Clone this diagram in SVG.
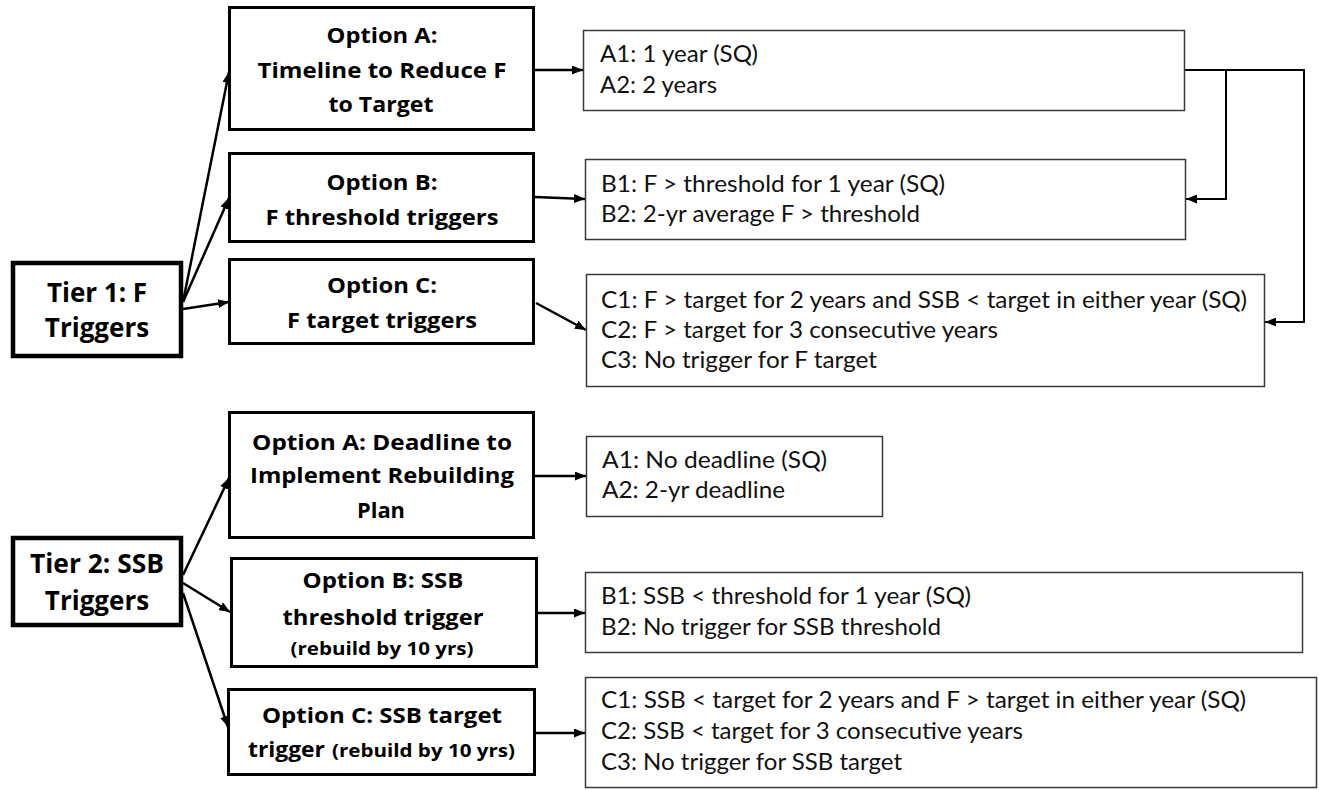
<svg xmlns="http://www.w3.org/2000/svg" width="1319" height="790" viewBox="0 0 1319 790">
<style>
.tier{fill:#fff;stroke:#000;stroke-width:4.5}
.opt{fill:#fff;stroke:#000;stroke-width:3}
.res{fill:#fff;stroke:#3a3a3a;stroke-width:1.5}
.bt{font-family:"Open Sans","Liberation Sans",sans-serif;font-weight:700;font-size:22px;fill:#000;text-anchor:middle}
.tt{font-family:"Open Sans","Liberation Sans",sans-serif;font-weight:700;font-size:26px;fill:#000;text-anchor:middle}
.sm{font-size:18px}
.rt{font-family:Lato,"Liberation Sans",sans-serif;font-size:23px;fill:#111}
.c{fill:none;stroke:#000;stroke-width:2.5}
.c2{fill:none;stroke:#000;stroke-width:2}
</style>
<defs>
<marker id="ah" markerUnits="userSpaceOnUse" markerWidth="11" markerHeight="9" refX="11" refY="4.5" orient="auto">
<path d="M0,0 L11,4.5 L0,9 z" fill="#000"/>
</marker>
</defs>
<rect width="1319" height="790" fill="#fff"/>

<g id="connectors">
<line class="c" x1="183" y1="302" x2="229" y2="72" marker-end="url(#ah)"/>
<line class="c" x1="183" y1="302" x2="229" y2="198" marker-end="url(#ah)"/>
<line class="c" x1="183" y1="309" x2="229" y2="302" marker-end="url(#ah)"/>
<line class="c" x1="535" y1="70" x2="583" y2="70" marker-end="url(#ah)"/>
<line class="c" x1="535" y1="197" x2="585" y2="199" marker-end="url(#ah)"/>
<line class="c" x1="536" y1="303" x2="586" y2="330" marker-end="url(#ah)"/>
<polyline class="c2" points="1185,70 1304,70 1304,322 1265,322" marker-end="url(#ah)"/>
<polyline class="c2" points="1226,70 1226,199 1186,199" marker-end="url(#ah)"/>
<line class="c" x1="183" y1="575" x2="229" y2="478" marker-end="url(#ah)"/>
<line class="c" x1="183" y1="583" x2="230" y2="612" marker-end="url(#ah)"/>
<line class="c" x1="183" y1="593" x2="228" y2="727" marker-end="url(#ah)"/>
<line class="c" x1="535" y1="476" x2="586" y2="476" marker-end="url(#ah)"/>
<line class="c" x1="538" y1="613" x2="585" y2="613" marker-end="url(#ah)"/>
<line class="c" x1="536" y1="733" x2="585" y2="733" marker-end="url(#ah)"/>
</g>

<g id="tier1">
<rect class="tier" x="13" y="263" width="168" height="93"/>
<text class="tt" x="97" y="302">Tier 1: F</text>
<text class="tt" x="97" y="337">Triggers</text>
</g>

<g id="t1-optA">
<rect class="opt" x="229.5" y="7.5" width="304" height="122"/>
<text class="bt" x="382" y="43" textLength="111" lengthAdjust="spacingAndGlyphs">Option A:</text>
<text class="bt" x="382" y="78" textLength="249" lengthAdjust="spacingAndGlyphs">Timeline to Reduce F</text>
<text class="bt" x="381" y="112" textLength="105" lengthAdjust="spacingAndGlyphs">to Target</text>
</g>

<g id="t1-optB">
<rect class="opt" x="229.5" y="153.5" width="304" height="88"/>
<text class="bt" x="382" y="190" textLength="111" lengthAdjust="spacingAndGlyphs">Option B:</text>
<text class="bt" x="382" y="225" textLength="233" lengthAdjust="spacingAndGlyphs">F threshold triggers</text>
</g>

<g id="t1-optC">
<rect class="opt" x="229.5" y="259.5" width="304" height="84"/>
<text class="bt" x="382" y="293" textLength="110" lengthAdjust="spacingAndGlyphs">Option C:</text>
<text class="bt" x="382" y="328" textLength="190" lengthAdjust="spacingAndGlyphs">F target triggers</text>
</g>

<g id="t1-resA">
<rect class="res" x="583.5" y="30.5" width="601" height="80"/>
<text class="rt" x="600" y="62" textLength="158" lengthAdjust="spacingAndGlyphs">A1: 1 year (SQ)</text>
<text class="rt" x="600" y="93" textLength="117" lengthAdjust="spacingAndGlyphs">A2: 2 years</text>
</g>

<g id="t1-resB">
<rect class="res" x="585.5" y="159.5" width="600" height="80"/>
<text class="rt" x="601" y="192" textLength="344" lengthAdjust="spacingAndGlyphs">B1: F &gt; threshold for 1 year (SQ)</text>
<text class="rt" x="601" y="222" textLength="319" lengthAdjust="spacingAndGlyphs">B2: 2-yr average F &gt; threshold</text>
</g>

<g id="t1-resC">
<rect class="res" x="586.5" y="274.5" width="678" height="112"/>
<text class="rt" x="601" y="308" textLength="646" lengthAdjust="spacingAndGlyphs">C1: F &gt; target for 2 years and SSB &lt; target in either year (SQ)</text>
<text class="rt" x="601" y="338" textLength="397" lengthAdjust="spacingAndGlyphs">C2: F &gt; target for 3 consecutive years</text>
<text class="rt" x="601" y="368" textLength="276" lengthAdjust="spacingAndGlyphs">C3: No trigger for F target</text>
</g>

<g id="tier2">
<rect class="tier" x="13" y="538" width="168" height="87"/>
<text class="tt" x="97" y="573" textLength="134" lengthAdjust="spacingAndGlyphs">Tier 2: SSB</text>
<text class="tt" x="97" y="610">Triggers</text>
</g>

<g id="t2-optA">
<rect class="opt" x="229.5" y="412.5" width="304" height="125"/>
<text class="bt" x="382" y="450" textLength="260" lengthAdjust="spacingAndGlyphs">Option A: Deadline to</text>
<text class="bt" x="382" y="483" textLength="264" lengthAdjust="spacingAndGlyphs">Implement Rebuilding</text>
<text class="bt" x="381" y="518" textLength="48" lengthAdjust="spacingAndGlyphs">Plan</text>
</g>

<g id="t2-optB">
<rect class="opt" x="231.5" y="558.5" width="305" height="108"/>
<text class="bt" x="383" y="588" textLength="161" lengthAdjust="spacingAndGlyphs">Option B: SSB</text>
<text class="bt" x="383" y="625" textLength="201" lengthAdjust="spacingAndGlyphs">threshold trigger</text>
<text class="bt sm" x="382" y="655" textLength="183" lengthAdjust="spacingAndGlyphs">(rebuild by 10 yrs)</text>
</g>

<g id="t2-optC">
<rect class="opt" x="228.5" y="689.5" width="306" height="85"/>
<text class="bt" x="382" y="723" textLength="240" lengthAdjust="spacingAndGlyphs">Option C: SSB target</text>
<text class="bt" x="248" y="757" style="text-anchor:start" textLength="77" lengthAdjust="spacingAndGlyphs">trigger</text>
<text class="bt sm" x="332" y="757" style="text-anchor:start" textLength="183" lengthAdjust="spacingAndGlyphs">(rebuild by 10 yrs)</text>
</g>

<g id="t2-resA">
<rect class="res" x="586.5" y="436.5" width="296" height="80"/>
<text class="rt" x="602" y="468" textLength="225" lengthAdjust="spacingAndGlyphs">A1: No deadline (SQ)</text>
<text class="rt" x="602" y="498" textLength="183" lengthAdjust="spacingAndGlyphs">A2: 2-yr deadline</text>
</g>

<g id="t2-resB">
<rect class="res" x="585.5" y="572.5" width="717" height="80"/>
<text class="rt" x="601" y="604" textLength="370" lengthAdjust="spacingAndGlyphs">B1: SSB &lt; threshold for 1 year (SQ)</text>
<text class="rt" x="601" y="635" textLength="340" lengthAdjust="spacingAndGlyphs">B2: No trigger for SSB threshold</text>
</g>

<g id="t2-resC">
<rect class="res" x="585.5" y="677.5" width="731" height="110"/>
<text class="rt" x="601" y="708" textLength="645" lengthAdjust="spacingAndGlyphs">C1: SSB &lt; target for 2 years and F &gt; target in either year (SQ)</text>
<text class="rt" x="601" y="739" textLength="422" lengthAdjust="spacingAndGlyphs">C2: SSB &lt; target for 3 consecutive years</text>
<text class="rt" x="601" y="770" textLength="301" lengthAdjust="spacingAndGlyphs">C3: No trigger for SSB target</text>
</g>
</svg>
